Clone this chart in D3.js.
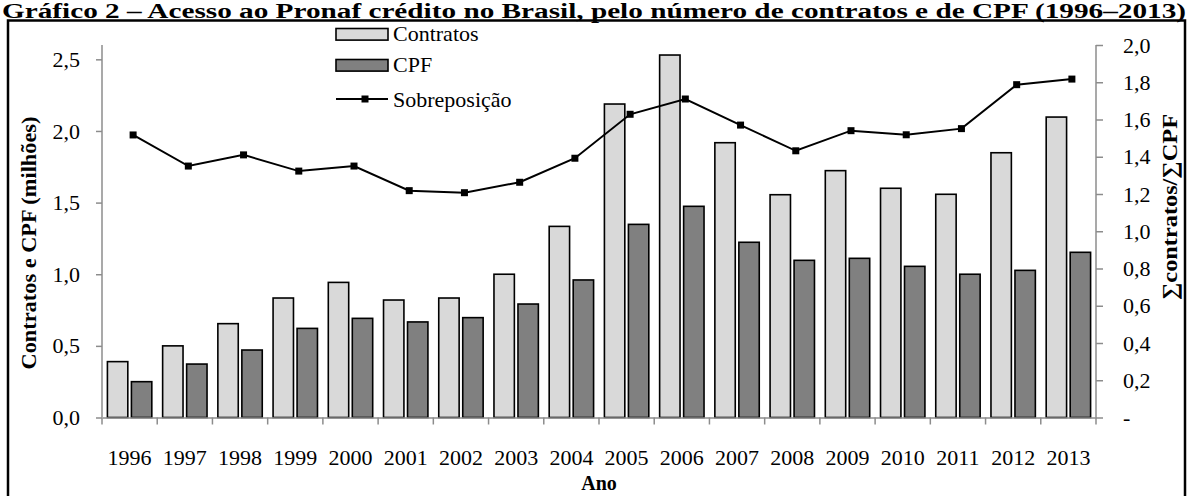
<!DOCTYPE html>
<html>
<head>
<meta charset="utf-8">
<script src="https://cdn.jsdelivr.net/npm/d3@7"></script>
<style>
  html, body { margin: 0; padding: 0; background: #fff; }
  svg { display: block; }
  text { font-family: "Liberation Serif", "Times New Roman", serif; fill: #000; }
</style>
</head>
<body>
<svg id="chart" width="1190" height="496"></svg>
<script>
// Pronaf crédito: contratos e CPF (milhões) e razão ∑contratos/∑CPF
const years = ["1996","1997","1998","1999","2000","2001","2002","2003","2004",
               "2005","2006","2007","2008","2009","2010","2011","2012","2013"];
const contratos = [0.39, 0.50, 0.655, 0.834, 0.943, 0.82, 0.834, 1.00, 1.334,
                   2.188, 2.53, 1.918, 1.555, 1.723, 1.60, 1.558, 1.848, 2.097];
const cpf = [0.25, 0.373, 0.471, 0.622, 0.692, 0.667, 0.697, 0.792, 0.96,
             1.348, 1.474, 1.223, 1.097, 1.111, 1.055, 1.00, 1.027, 1.153];
const sobreposicao = [1.517, 1.35, 1.41, 1.323, 1.35, 1.218, 1.207, 1.263, 1.392,
                      1.628, 1.71, 1.57, 1.432, 1.54, 1.518, 1.551, 1.787, 1.817];
const leftTicks = [0, 0.5, 1.0, 1.5, 2.0, 2.5];
const rightTicks = [0, 0.2, 0.4, 0.6, 0.8, 1.0, 1.2, 1.4, 1.6, 1.8, 2.0];
const seriesNames = ["Contratos", "CPF"];
const seriesColors = { "Contratos": "#d9d9d9", "CPF": "#808080" };

const svg = d3.select("#chart");
const plot = { left: 102, right: 1096, top: 45, bottom: 417.5 };
const axisGray = "#8c8c8c";
const comma = v => d3.format(".1f")(v).replace(".", ",");

// Title and frame
svg.append("text")
  .attr("x", 2).attr("y", 18)
  .attr("font-size", 20).attr("font-weight", "bold")
  .attr("textLength", 1184).attr("lengthAdjust", "spacingAndGlyphs")
  .text("Gráfico 2 – Acesso ao Pronaf crédito no Brasil, pelo número de contratos e de CPF (1996–2013)");

svg.append("rect")
  .attr("x", 8).attr("y", 20.5).attr("width", 1177).attr("height", 490)
  .attr("fill", "none").attr("stroke", "#000").attr("stroke-width", 2.5);

// Scales
const x = d3.scaleBand().domain(years).range([plot.left, plot.right]).padding(0);
const bw = x.bandwidth();
const xs = d3.scaleBand().domain(seriesNames)
  .range([bw * 0.098, bw * 0.902]).paddingInner(0.15).paddingOuter(0);
const yL = d3.scaleLinear().domain([0, 2.6]).range([plot.bottom, plot.top]);
const yR = d3.scaleLinear().domain([0, 2.0]).range([plot.bottom, plot.top]);
const lineOffset = 3.5;

// Bars
const rows = years.map((yr, i) => ({ yr, Contratos: contratos[i], CPF: cpf[i] }));
const groups = svg.append("g").selectAll("g").data(rows).join("g")
  .attr("transform", d => `translate(${x(d.yr)},0)`);
groups.selectAll("rect")
  .data(d => seriesNames.map(k => ({ k, v: d[k] })))
  .join("rect")
  .attr("x", d => xs(d.k))
  .attr("width", xs.bandwidth())
  .attr("y", d => yL(d.v))
  .attr("height", d => yL(0) - yL(d.v))
  .attr("fill", d => seriesColors[d.k])
  .attr("stroke", "#000").attr("stroke-width", 1.6);

// Axes
const gL = svg.append("g").attr("transform", `translate(${plot.left},0)`)
  .call(d3.axisLeft(yL).tickValues(leftTicks).tickFormat(comma).tickSize(6).tickSizeOuter(0).tickPadding(16));
const gR = svg.append("g").attr("transform", `translate(${plot.right},0)`)
  .call(d3.axisRight(yR).tickValues(rightTicks)
    .tickFormat(v => v === 0 ? "-" : comma(v)).tickSize(7).tickSizeOuter(0).tickPadding(20));
const gX = svg.append("g").attr("transform", `translate(0,${plot.bottom})`)
  .call(d3.axisBottom(x).tickSize(0).tickPadding(32));

// Category boundary ticks on the x axis
svg.append("g").selectAll("line")
  .data(years.concat(["end"]))
  .join("line")
  .attr("x1", (d, i) => plot.left + i * bw).attr("x2", (d, i) => plot.left + i * bw)
  .attr("y1", plot.bottom).attr("y2", plot.bottom + 7)
  .attr("stroke", axisGray).attr("stroke-width", 1.5);

// Value axes span the full plot height
svg.append("line").attr("x1", plot.left).attr("x2", plot.left)
  .attr("y1", plot.top).attr("y2", plot.bottom).attr("stroke", axisGray).attr("stroke-width", 1.5);
svg.append("line").attr("x1", plot.right).attr("x2", plot.right)
  .attr("y1", plot.top).attr("y2", plot.bottom).attr("stroke", axisGray).attr("stroke-width", 1.5);

[gL, gR, gX].forEach(g => {
  g.select(".domain").attr("stroke", axisGray).attr("stroke-width", 1.5);
  g.selectAll(".tick line").attr("stroke", axisGray).attr("stroke-width", 1.5);
  g.selectAll(".tick text").attr("font-size", 22).attr("font-family", "Liberation Serif, serif").attr("fill", "#000");
});
gL.select(".domain").remove();
gR.select(".domain").remove();

// Overlap ratio line
const lineGen = d3.line()
  .x((d, i) => x(years[i]) + bw / 2 + lineOffset)
  .y(d => yR(d));
svg.append("path").datum(sobreposicao)
  .attr("d", lineGen).attr("fill", "none")
  .attr("stroke", "#000").attr("stroke-width", 2);
svg.append("g").selectAll("rect").data(sobreposicao).join("rect")
  .attr("x", (d, i) => x(years[i]) + bw / 2 + lineOffset - 3.5)
  .attr("y", d => yR(d) - 3.5)
  .attr("width", 7).attr("height", 7).attr("fill", "#000");

// Axis titles
svg.append("text")
  .attr("transform", `translate(36,243) rotate(-90)`)
  .attr("text-anchor", "middle").attr("font-size", 21).attr("font-weight", "bold")
  .attr("textLength", 253).attr("lengthAdjust", "spacingAndGlyphs")
  .text("Contratos e CPF (milhões)");
svg.append("text")
  .attr("transform", `translate(1177,207) rotate(-90)`)
  .attr("text-anchor", "middle").attr("font-size", 21).attr("font-weight", "bold")
  .attr("textLength", 186).attr("lengthAdjust", "spacingAndGlyphs")
  .text("∑contratos/∑CPF");
svg.append("text")
  .attr("x", (plot.left + plot.right) / 2).attr("y", 490)
  .attr("text-anchor", "middle").attr("font-size", 20).attr("font-weight", "bold")
  .text("Ano");

// Legend
const leg = svg.append("g");
const legX = 336, legW = 52, legTextX = 393;
seriesNames.forEach((k, i) => {
  const cy = 34.3 + i * 31;
  leg.append("rect").attr("x", legX).attr("y", cy - 5.8).attr("width", legW).attr("height", 11.6)
    .attr("fill", seriesColors[k]).attr("stroke", "#000").attr("stroke-width", 1.6);
  leg.append("text").attr("x", legTextX).attr("y", cy + 6.8).attr("font-size", 22).text(k);
});
leg.append("line").attr("x1", legX).attr("x2", legX + legW).attr("y1", 99).attr("y2", 99)
  .attr("stroke", "#000").attr("stroke-width", 2);
leg.append("rect").attr("x", legX + legW / 2 + 3 - 3.5).attr("y", 99 - 3.5)
  .attr("width", 7).attr("height", 7).attr("fill", "#000");
leg.append("text").attr("x", legTextX).attr("y", 106.5).attr("font-size", 22).text("Sobreposição");
</script>
</body>
</html>
